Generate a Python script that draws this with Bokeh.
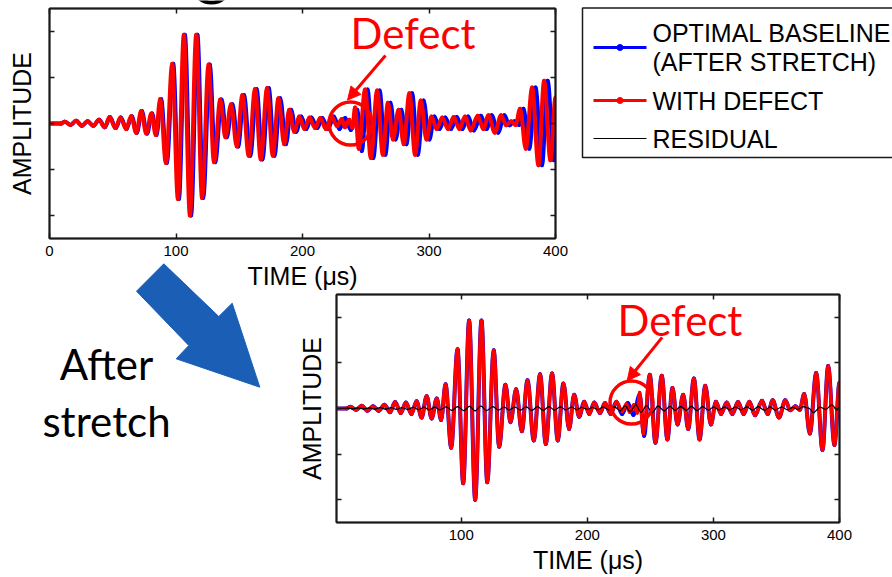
from bokeh.plotting import figure
from bokeh.models import (Range1d, FixedTicker, LinearAxis, GridBox, Column, Arrow,
                          NormalHead, ColumnDataSource)
from bokeh.core.properties import value
from bokeh.embed import file_html
from bokeh.resources import INLINE

# ---- signal extrema (time in microseconds, amplitude in arbitrary units) ----
# measured signal with the defect present
time_defect = [0, 9, 12, 16.5, 21, 25.5, 30, 34.5, 39, 43.5,
               47.5, 52, 56, 60.5, 64.5, 68.5, 72.5, 76.5, 80.5, 84,
               87.5, 92, 97, 101.5, 106.2, 111, 116, 120.6, 125.7, 130,
               135, 139, 143.5, 148, 152.5, 157.5, 162.5, 167, 172, 176.5,
               181, 185.5, 189.5, 193.5, 197.5, 201.5, 205.5, 210, 214, 218.5,
               223, 227.5, 231, 233.5, 237, 239.5, 241.5, 244.5, 249.5, 254,
               259, 263.5, 267.5, 271.5, 276, 280, 284.5, 289, 293.5, 298,
               302, 306, 310.5, 315, 319.5, 324, 328.5, 333, 338.5, 343,
               347, 352, 357, 361, 365, 368.5, 372, 376.5, 381.5, 386.5,
               391, 396, 400]
amp_defect = [0, 0, 0.04, -0.03, 0.06, -0.05, 0.05, -0.05, 0.08, -0.08,
              0.14, -0.1, 0.13, -0.12, 0.16, -0.2, 0.27, -0.22, 0.22, -0.25,
              0.53, -0.86, 1.3, -1.64, 1.93, -2.0, 1.93, -1.62, 1.28, -0.84,
              0.52, -0.3, 0.42, -0.5, 0.62, -0.7, 0.75, -0.78, 0.77, -0.7,
              0.55, -0.45, 0.3, -0.18, 0.15, -0.12, 0.13, -0.1, 0.12, -0.12,
              0.15, -0.06, 0.1, -0.08, 0.08, -0.1, 0.35, -0.55, 0.74, -0.75,
              0.72, -0.68, 0.45, -0.35, 0.3, -0.45, 0.66, -0.68, 0.5, -0.35,
              0.15, -0.12, 0.13, -0.12, 0.14, -0.12, 0.15, -0.15, 0.17, -0.12,
              0.18, -0.2, 0.18, -0.04, 0.05, -0.03, 0.32, -0.55, 0.78, -0.91,
              0.93, -0.8, 0.57]

# baseline recorded at a different temperature (before stretching)
time_base_raw = [0, 9.1, 12.1, 16.6, 21.1, 25.6, 30.2, 34.7, 39.3, 43.8,
                 47.8, 52.4, 56.4, 60.9, 65, 69, 73, 77.1, 81.1, 84.6,
                 88.2, 92.7, 97.8, 102.3, 107, 111.9, 116.9, 121.5, 126.7, 131,
                 136, 140.1, 144.6, 149.1, 153.7, 158.7, 163.7, 168.3, 173.3, 177.8,
                 182.4, 186.9, 190.9, 195, 199, 203, 207, 211.6, 215.6, 220.1,
                 224.7, 229.2, 233.7, 238.2, 243.3, 246.8, 251.4, 255.9,
                 260.9, 265.5, 269.5, 273.5, 278.1, 282.1, 286.6, 291.1, 295.7, 300.2,
                 304.3, 308.3, 312.8, 317.4, 321.9, 326.4, 330.9, 335.4,
                 341, 345.5, 349.5, 354.6, 359.6, 363.6, 367.6, 371.2, 374.7, 379.2,
                 384.2, 389.3, 393.8, 398.8, 402.8]
amp_base = [0, 0, 0.04, -0.03, 0.06, -0.05, 0.05, -0.05, 0.08, -0.08,
            0.14, -0.1, 0.13, -0.12, 0.16, -0.2, 0.27, -0.22, 0.22, -0.25,
            0.53, -0.86, 1.3, -1.64, 1.93, -2.0, 1.93, -1.62, 1.28, -0.84,
            0.52, -0.3, 0.42, -0.5, 0.62, -0.7, 0.75, -0.78, 0.77, -0.7,
            0.55, -0.45, 0.3, -0.18, 0.15, -0.12, 0.13, -0.1, 0.12, -0.12,
            0.15, -0.12, 0.12, -0.14, 0.3, -0.6, 0.74, -0.75,
            0.72, -0.68, 0.45, -0.35, 0.3, -0.45, 0.66, -0.68, 0.5, -0.35,
            0.15, -0.12, 0.13, -0.12, 0.14, -0.12, 0.15, -0.15,
            0.17, -0.12, 0.18, -0.2, 0.18, -0.04, 0.05, -0.03, 0.32, -0.55,
            0.78, -0.91, 0.93, -0.8, 0.57]

# the same baseline after the optimal stretch
time_base_str = [0, 9, 12, 16.5, 21, 25.5, 30, 34.5, 39, 43.5,
                 47.5, 52, 56, 60.5, 64.5, 68.5, 72.5, 76.5, 80.5, 84,
                 87.5, 92, 97, 101.5, 106.2, 111, 116, 120.6, 125.7, 130,
                 135, 139, 143.5, 148, 152.5, 157.5, 162.5, 167, 172, 176.5,
                 181, 185.5, 189.5, 193.5, 197.5, 201.5, 205.5, 210, 214, 218.5,
                 223, 227.5, 232, 236.5, 241.5, 245, 249.5, 254,
                 259, 263.5, 267.5, 271.5, 276, 280, 284.5, 289, 293.5, 298,
                 302, 306, 310.5, 315, 319.5, 324, 328.5, 333,
                 338.5, 343, 347, 352, 357, 361, 365, 368.5, 372, 376.5,
                 381.5, 386.5, 391, 396, 400]

# residual = defect signal minus stretched baseline
time_resid = [1, 10, 13.5, 18, 22.5, 27, 31, 35.5, 40, 44.5,
              48.5, 53, 57.5, 62, 66, 70.5, 74.5, 79, 83, 88,
              92.5, 97, 102, 106.5, 111, 115.5, 120, 125, 129.5, 134,
              138, 142.5, 147, 151.5, 156, 160.5, 165, 169.5, 174, 178.5,
              183, 187.5, 191.5, 195.5, 200, 204, 208.5, 212.5, 217, 221.5,
              226, 230, 234, 238.5, 242.5, 247, 251.5, 256, 261, 265.5,
              269.5, 274, 278.5, 282.5, 287, 291.5, 296, 300, 304.5, 309,
              313, 317.5, 322, 326.5, 331, 335.5, 340.5, 345, 349, 354,
              359, 363, 367, 371, 375.5, 379.5, 384.5, 389, 394, 398, 400]
amp_resid = [0, 0.01, -0.01, 0.015, -0.01, 0.015, -0.015, 0.02, -0.015, 0.02,
             -0.02, 0.02, -0.02, 0.025, -0.025, 0.03, -0.03, 0.03, -0.03, 0.035,
             -0.04, 0.04, -0.045, 0.045, -0.05, 0.05, -0.045, 0.04, -0.035, 0.03,
             -0.03, 0.03, -0.035, 0.035, -0.04, 0.04, -0.04, 0.04, -0.035, 0.035,
             -0.03, 0.03, -0.025, 0.025, -0.02, 0.025, -0.025, 0.03, -0.03, 0.035,
             -0.05, 0.06, -0.07, 0.08, -0.08, 0.06, -0.09, 0.05, -0.05, 0.045,
             -0.04, 0.04, -0.04, 0.045, -0.045, 0.04, -0.035, 0.03, -0.03, 0.03,
             -0.03, 0.03, -0.03, 0.035, -0.035, 0.04, -0.04, 0.035, -0.035, 0.03,
             -0.03, 0.025, -0.02, 0.04, 0.01, -0.09, 0.03, -0.02, 0.08, -0.03, 0.02]

top_time_ticks = [0, 100, 200, 300, 400]
bottom_time_ticks = [100, 200, 300, 400]
amp_ticks = [-2, -1, 0, 1, 2]
legend_lines = ["OPTIMAL BASELINE", "(AFTER STRETCH)", "WITH DEFECT", "RESIDUAL"]

RED = "#ff0000"
BLUE = "#0000ff"
ARROW_BLUE = "#1a5eb6"
FRAME = "#1a1a1a"
AXIS_FONT = "Liberation Sans"
NOTE_FONT = "Lato"


def wave_source(t, a):
    """Half-cycle curve pieces between successive extrema, flat at each extremum."""
    x0, x1, y0, y1 = t[:-1], t[1:], a[:-1], a[1:]
    reach = [(b - c) * 0.36 for b, c in zip(x1, x0)]
    return ColumnDataSource(dict(
        x0=x0, y0=y0, x1=x1, y1=y1,
        cx0=[x + r for x, r in zip(x0, reach)], cy0=y0,
        cx1=[x - r for x, r in zip(x1, reach)], cy1=y1))


def draw_wave(p, t, a, color, width):
    p.bezier(x0="x0", y0="y0", x1="x1", y1="y1", cx0="cx0", cy0="cy0",
             cx1="cx1", cy1="cy1", source=wave_source(t, a),
             line_color=color, line_width=width, line_cap="round")


def hide_labels(ax):
    # tick marks only: labels are not painted and take no room
    ax.major_label_text_color = None
    ax.major_label_text_font_size = "1px"
    ax.major_label_standoff = 0


def style_panel(p, ticks):
    p.grid.visible = False
    p.outline_line_color = FRAME
    p.outline_line_width = 1.5
    p.background_fill_color = "white"
    p.border_fill_color = None
    xa = p.xaxis[0]
    xa.ticker = FixedTicker(ticks=ticks)
    xa.major_label_text_font = AXIS_FONT
    xa.major_label_text_font_size = "15px"
    xa.major_label_text_color = "black"
    xa.major_label_standoff = 7
    xa.axis_label = "TIME (\u03bcs)"
    xa.axis_label_standoff = 3
    ya = p.yaxis[0]
    ya.ticker = FixedTicker(ticks=amp_ticks)
    hide_labels(ya)
    ya.axis_label = "AMPLITUDE"
    for ax in (xa, ya):
        ax.axis_label_text_font = AXIS_FONT
        ax.axis_label_text_font_size = "25px"
        ax.axis_label_text_font_style = "normal"
        ax.axis_label_text_color = "black"
    # mirrored tick marks on the top and right edges
    p.add_layout(LinearAxis(ticker=FixedTicker(ticks=ticks)), "above")
    p.add_layout(LinearAxis(ticker=FixedTicker(ticks=amp_ticks)), "right")
    for ax in p.axis:
        ax.major_tick_in = 5
        ax.major_tick_out = 0
        ax.minor_tick_line_color = None
        ax.axis_line_width = 2
        ax.axis_line_color = FRAME
        ax.major_tick_line_width = 1.5
        ax.major_tick_line_color = FRAME
    for ax in p.above + p.right:
        hide_labels(ax)


def mark_defect(p, text_at, ring_at, arrow_from, arrow_to):
    p.text(x=[text_at[0]], y=[text_at[1]], text=["Defect"], text_font=value(NOTE_FONT),
           text_font_size="42px", text_color=RED, text_align="left",
           text_baseline="alphabetic")
    p.scatter(x=[ring_at[0]], y=[ring_at[1]], marker="circle", size=43,
              fill_color=None, line_color=RED, line_width=3.5)
    p.add_layout(Arrow(end=NormalHead(size=13, fill_color=RED, line_color=RED),
                       x_start=arrow_from[0], y_start=arrow_from[1],
                       x_end=arrow_to[0], y_end=arrow_to[1],
                       line_color=RED, line_width=3))


# ---- background canvas in page pixels: block arrow, caption, legend ----
bg = figure(frame_width=892, frame_height=577, x_range=Range1d(0, 892),
            y_range=Range1d(577, 0), x_axis_type=None, y_axis_type=None,
            output_backend="svg", toolbar_location=None,
            min_border_left=0, min_border_right=0, min_border_top=0, min_border_bottom=0)
bg.grid.visible = False
bg.outline_line_color = None
bg.background_fill_color = "white"
bg.border_fill_color = "white"

# tail of a title glyph cut by the page edge
bg.scatter(x=[211], y=[-18], marker="circle", size=40, fill_color=None,
           line_color="black", line_width=4)

arrow_shape_x = [163.3, 218.3, 231.7, 259.3, 175.7, 188.3, 136.0]
arrow_shape_y = [263.3, 316.0, 302.7, 386.7, 358.3, 345.0, 290.7]
bg.patch(arrow_shape_x, arrow_shape_y, fill_color=ARROW_BLUE, line_color=ARROW_BLUE)

bg.text(x=[106, 106], y=[363, 420], text=["After", "stretch"], text_font=value(NOTE_FONT),
        text_font_size="42px", text_color="black", text_align="center",
        text_baseline="alphabetic")

bg.quad(left=[582], right=[905], top=[7.5], bottom=[157], fill_color="white",
        line_color=FRAME, line_width=1.5)
bg.line([593, 646], [47, 47], line_color=BLUE, line_width=3)
bg.scatter([619.5], [47], size=6, color=BLUE)
bg.line([593, 646], [100, 100], line_color=RED, line_width=3)
bg.scatter([619.5], [100], size=6, color=RED)
bg.line([593, 646], [138, 138], line_color="black", line_width=1.2)
bg.text(x=[652] * 4, y=[32, 61, 100, 138], text=legend_lines, text_font=value(AXIS_FONT),
        text_font_size="25px", text_color="black", text_align="left",
        text_baseline="middle")

# ---- upper panel: defect signal against the unstretched baseline ----
top = figure(frame_width=506, frame_height=230, x_range=Range1d(0, 400),
             y_range=Range1d(-2.5, 2.5), output_backend="svg", toolbar_location=None,
             min_border_left=49, min_border_right=20, min_border_top=8, min_border_bottom=54)
style_panel(top, top_time_ticks)
top.yaxis[0].axis_label_standoff = 14
draw_wave(top, time_base_raw, amp_base, BLUE, 4)
draw_wave(top, time_defect, amp_defect, RED, 4)
mark_defect(top, (238, 1.96), (238, 0.0), (265.6, 1.48), (235.6, 0.51))

# ---- lower panel: after stretching, with the residual ----
bot = figure(frame_width=503, frame_height=228, x_range=Range1d(1, 400),
             y_range=Range1d(-2.5, 2.5), output_backend="svg", toolbar_location=None,
             min_border_left=56, min_border_right=53, min_border_top=14, min_border_bottom=55)
style_panel(bot, bottom_time_ticks)
bot.xaxis[0].major_label_standoff = 9
bot.xaxis[0].axis_label_standoff = 5
bot.yaxis[0].axis_label_standoff = 11
draw_wave(bot, time_base_str, amp_base, BLUE, 4)
draw_wave(bot, time_defect, amp_defect, RED, 3.5)
draw_wave(bot, time_resid, amp_resid, "black", 1.2)
mark_defect(bot, (223.9, 1.95), (235, 0.13), (259.3, 1.56), (231.6, 0.61))

# each plot sits in its own box so the grid does not line their frames up;
# the boxes share one grid cell and are offset by their margins
bg_box = Column(children=[bg], margin=(0, 0, 0, 0))
top_box = Column(children=[top], margin=(0, 0, 0, 0))
bot_box = Column(children=[bot], margin=(280, 0, 0, 280))

page = GridBox(children=[(bg_box, 0, 0), (top_box, 0, 0), (bot_box, 0, 0)])

html = file_html(page, INLINE)
html = html.replace("<body>", '<body style="margin:0;padding:0">', 1)
open("out.html", "w").write(html)
